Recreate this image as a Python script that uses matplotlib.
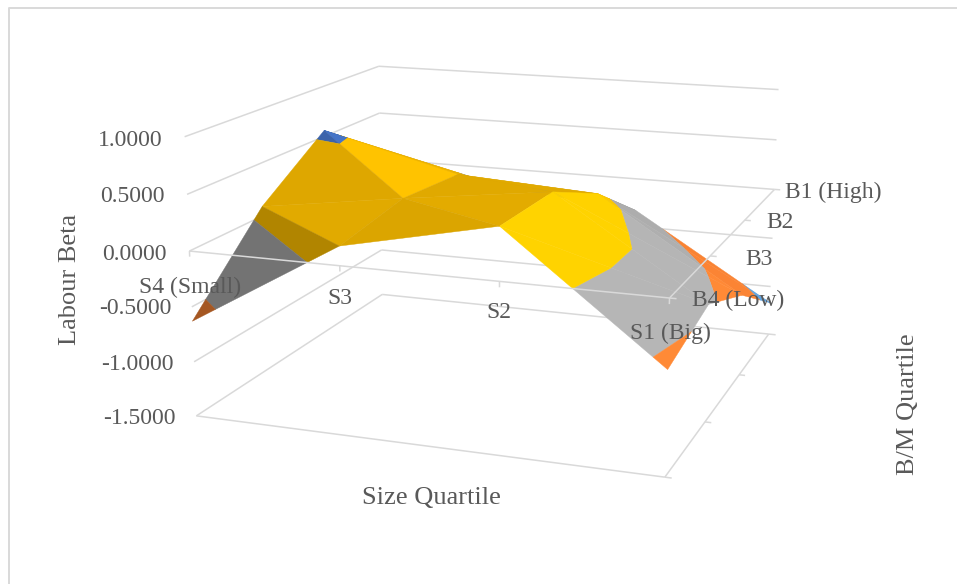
import numpy as np
import matplotlib
matplotlib.use("Agg")
import matplotlib.pyplot as plt
from mpl_toolkits.mplot3d.art3d import Poly3DCollection

plt.rcParams["font.family"] = ["Liberation Serif", "DejaVu Serif"]

# labour beta by size quartile (S4..S1), one list per B/M quartile
size_labels = ["S4 (Small)", "S3", "S2", "S1 (Big)"]
bm_labels = ["B4 (Low)", "B3", "B2", "B1 (High)"]
beta_b4 = [-0.63, 0.17, 0.46, -0.59]
beta_b3 = [0.09, 0.28, 0.45, -0.43]
beta_b2 = [0.56, 0.22, 0.14, -0.72]
beta_b1 = [0.02, -0.20, -0.33, -1.17]
z_ticks = [-1.5, -1.0, -0.5, 0.0, 0.5, 1.0]
band_colors = ["#5B9BD5", "#ED7D31", "#A5A5A5", "#FFC000", "#4472C4"]

W, H = 957, 584
GRID = "#D9D9D9"
TEXT = "#595959"
FS_TICK = 17
FS_TITLE = 19


def clip_band(poly, lo, hi):
    # cut a polygon down to the part lying between two z levels
    def cut(pts, level, keep_above):
        out = []
        for a, b in zip(pts, pts[1:] + pts[:1]):
            da, db = a[2] - level, b[2] - level
            ina = da >= 0 if keep_above else da <= 0
            inb = db >= 0 if keep_above else db <= 0
            if ina:
                out.append(a)
            if ina != inb:
                t = da / (da - db)
                out.append(tuple(a[k] + t * (b[k] - a[k]) for k in range(3)))
        return out
    pts = cut(poly, lo, True)
    return cut(pts, hi, False) if pts else []


def shade(tri):
    # brightness of a facet from its slope along the two category axes
    p = np.array(tri)
    A = np.c_[p[:, 0], p[:, 1], np.ones(3)]
    dx, dy, _ = np.linalg.solve(A, p[:, 2])
    f = 0.94 - 0.27 * dx - 0.04 * max(dy, 0) + 0.25 * min(dy, 0)
    return min(f, 1.1)


def tint(color, f):
    return tuple(min(c * f, 1.0) for c in matplotlib.colors.to_rgb(color))


beta = np.array([beta_b4, beta_b3, beta_b2, beta_b1])
ny, nx = beta.shape

# split every cell along its higher diagonal
triangles = []
for j in range(ny - 1):
    for i in range(nx - 1):
        p00 = (i, j, beta[j, i])
        p10 = (i + 1, j, beta[j, i + 1])
        p01 = (i, j + 1, beta[j + 1, i])
        p11 = (i + 1, j + 1, beta[j + 1, i + 1])
        if p00[2] + p11[2] > p10[2] + p01[2]:
            triangles += [[p00, p10, p11], [p00, p11, p01]]
        else:
            triangles += [[p00, p10, p01], [p10, p11, p01]]

polys, colors = [], []
for tri in triangles:
    f = shade(tri)
    for k, col in enumerate(band_colors):
        piece = clip_band(tri, z_ticks[k], z_ticks[k + 1])
        if len(piece) >= 3:
            polys.append(piece)
            colors.append(tint(col, f))

fig = plt.figure(figsize=(W / 100, H / 100), dpi=100)
fig.patch.set_facecolor("white")
ax = fig.add_axes([157.62 / W, -5.25 / H, 671.96 / W, 671.96 / H], projection="3d")
ax.set_xlim(0, 3)
ax.set_ylim(0, 3)
ax.set_zlim(-1.5, 1)
ax.set_proj_type("persp", focal_length=float(np.exp(-0.69164)))
ax.view_init(elev=14.405, azim=-70.414, roll=-0.124)
ax.set_box_aspect((1, 0.97221, 0.58836))
ax.set_axis_off()
ax.computed_zorder = False
ax.patch.set_alpha(0)


def seg(p, q, lw=1.1, z=1, color=GRID):
    ax.plot([p[0], q[0]], [p[1], q[1]], [p[2], q[2]], color=color, lw=lw, zorder=z,
            solid_capstyle="butt", clip_on=False)


# gridlines on the side and back walls
for zv in z_ticks:
    seg((0, 0, zv), (0, 3, zv))
    seg((0, 3, zv), (3, 3, zv))
# floor outline with its tick marks
seg((0, 0, -1.5), (3, 0, -1.5))
seg((3, 0, -1.5), (3, 3, -1.5))
seg((3, 0, -1.5), (3.04, 0, -1.5))
seg((3, 3, -1.5), (3.05, 3, -1.5))
for j in (1, 2):
    seg((3, j, -1.5), (3.04, j, -1.5))

surf = Poly3DCollection(polys, facecolors=colors, edgecolors=colors, linewidths=0.3, zorder=2)
ax.add_collection3d(surf)

# category axes sit on the zero plane, in front of the surface
seg((0, 0, 0), (3, 0, 0), z=3)
seg((3, 0, 0), (3, 3, 0), z=3)
for i in range(nx):
    seg((i, 0, 0), (i, 0, -0.05), z=3)
for j in range(ny):
    seg((3, j, 0), (3.04, j, 0), z=3)


def label(x, y, s, ha="center", rotation=0, size=FS_TICK):
    fig.text(x / W, 1 - y / H, s, ha=ha, va="center", rotation=rotation, color=TEXT,
             fontsize=size, zorder=10)


z_label_right = [176, 174, 171, 167, 165, 163]
z_label_y = [418, 364, 309, 254, 197, 140]
for zv, xr, yy in zip(z_ticks, z_label_right, z_label_y):
    label(xr, yy, f"{zv:.4f}", ha="right")

size_label_xy = [(190, 287), (340, 299), (499, 313), (670, 333)]
for s, (xx, yy) in zip(size_labels, size_label_xy):
    label(xx, yy, s)

bm_label_xy = [(738, 300), (759, 259), (780, 222), (833, 192)]
for s, (xx, yy) in zip(bm_labels, bm_label_xy):
    label(xx, yy, s)

label(431, 498, "Size Quartile", size=FS_TITLE)
label(70, 279, "Labour Beta", rotation=90, size=FS_TITLE)
label(908, 404, "B/M Quartile", rotation=90, size=FS_TITLE)

# chart frame: left and top edges only reach the picture
frame_x = [9 / W, 9 / W, 1]
frame_y = [0, 1 - 8 / H, 1 - 8 / H]
fig.add_artist(plt.Line2D(frame_x, frame_y, color=GRID, lw=1.4))

fig.savefig("out.png", dpi=100)
